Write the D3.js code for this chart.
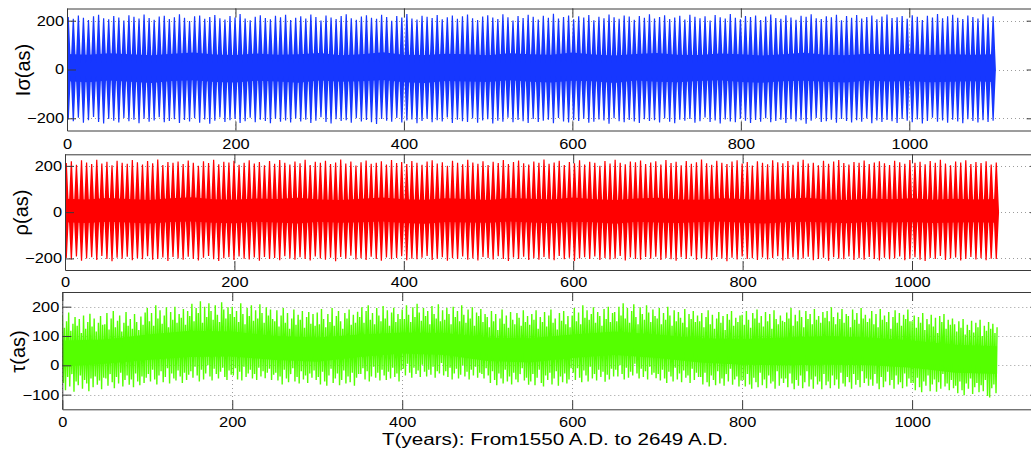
<!DOCTYPE html>
<html><head><meta charset="utf-8">
<script src="https://cdn.jsdelivr.net/npm/d3@7"></script>
<style>body{margin:0;background:#fff;overflow:hidden}</style>
</head><body>
<svg id="c" width="1031" height="458"></svg>
<script>
// ---------------- DATA ----------------
const xTicks = [0, 200, 400, 600, 800, 1000];
const xDomain = [0, 1150];
const yTicksSigma = [-200, 0, 200];
const yTicksRho = [-200, 0, 200];
const yTicksTau = [-100, 0, 100, 200];
const yLabels = ["Iσ(as)", "ρ(as)", "τ(as)"];
const xLabelText = "T(years): From1550 A.D. to 2649 A.D.";

// spikes of the ~6-year beat (years from 1550), read as peak heights
const spikeStart = 1.5, spikeStep = 6;
const sigmaTop = [
215,208,221,212,203,218,224,210,206,219,213,201,222,216,209,225,211,204,217,220,207,214,226,
212,199,218,221,208,215,223,210,205,219,213,227,209,202,216,222,211,206,220,214,224,203,212,
218,209,225,215,201,221,213,207,219,226,210,204,217,222,212,208,224,215,200,219,213,227,209,
205,220,216,211,223,206,214,221,208,218,225,210,203,217,222,213,207,226,214,201,219,211,224,
216,205,220,212,228,209,215,221,206,218,213,223,202,216,210,225,214,208,221,217,204,219,212,
226,209,215,222,207,213,220,205,224,216,210,218,201,223,214,209,227,212,206,219,215,221,203,
217,225,211,208,222,213,204,220,216,226,210,207,218,214,224,202,219,212,223,209,215,221,206,
217,225,211,214,219,208,222,216,203,220,213,227,210,218,224,212,207,221,215,209,226,213,218];
const sigmaBottom = [
-205,-212,-198,-218,-208,-195,-215,-221,-203,-210,-217,-199,-212,-206,-220,-202,-214,-209,-196,-216,-211,-204,-219,
-207,-213,-200,-218,-205,-222,-210,-197,-215,-208,-203,-219,-212,-198,-216,-206,-211,-220,-202,-214,-209,-217,-201,
-213,-206,-219,-210,-196,-215,-221,-204,-211,-208,-218,-200,-213,-207,-216,-223,-203,-210,-214,-199,-217,-209,-205,
-220,-211,-202,-216,-208,-213,-197,-219,-206,-212,-215,-201,-218,-209,-204,-221,-210,-214,-198,-216,-207,-212,-219,
-203,-215,-210,-206,-220,-199,-213,-217,-208,-211,-202,-218,-214,-205,-209,-222,-200,-212,-216,-207,-213,-219,-204,
-211,-208,-217,-201,-214,-220,-206,-210,-203,-218,-212,-197,-215,-209,-221,-205,-213,-216,-202,-210,-219,-207,-214,
-200,-216,-211,-206,-219,-204,-213,-208,-222,-210,-199,-215,-212,-206,-218,-203,-211,-217,-208,-214,-201,-220,-209,
-215,-207,-212,-219,-203,-210,-216,-205,-221,-211,-198,-214,-209,-218,-206,-213,-220,-204,-211,-217,-208,-215,-210];
const rhoTop = [
212,220,205,224,215,208,226,210,218,203,222,214,209,225,216,206,221,211,227,204,217,213,219,
208,223,214,201,220,212,226,207,218,215,222,205,213,224,210,217,203,221,209,225,214,206,219,
211,226,204,218,213,222,208,215,227,210,219,202,216,223,209,214,220,206,225,212,217,208,221,
214,205,219,224,210,216,201,222,213,207,226,215,209,220,204,218,212,225,208,217,223,211,206,
219,213,227,209,215,222,204,217,211,224,206,218,214,201,221,210,226,213,207,219,216,223,208,
215,220,206,225,212,218,203,221,209,216,227,211,205,222,214,208,219,224,210,217,202,220,213,
207,224,216,211,221,205,218,226,210,214,203,222,209,219,225,212,206,217,213,223,208,215,220,
211,204,222,216,209,225,213,218,207,221,214,226,210,203,219,215,224,208,217,212,220,206,215];
const rhoBottom = [
-198,-205,-192,-210,-200,-195,-207,-190,-203,-212,-197,-201,-193,-208,-199,-204,-191,-206,-202,-196,-211,-194,-200,
-206,-193,-202,-209,-197,-190,-204,-211,-199,-195,-207,-192,-201,-205,-196,-210,-194,-203,-198,-208,-191,-200,-206,
-195,-203,-209,-192,-200,-206,-197,-212,-194,-201,-188,-205,-199,-207,-193,-202,-210,-196,-204,-198,-191,-208,-201,
-204,-197,-190,-207,-201,-195,-210,-199,-203,-192,-206,-200,-209,-194,-198,-205,-191,-202,-211,-196,-203,-193,-207,
-199,-206,-194,-201,-208,-190,-204,-197,-211,-200,-195,-203,-192,-207,-198,-205,-201,-189,-209,-196,-202,-206,-194,
-201,-193,-207,-198,-204,-210,-195,-202,-191,-206,-199,-203,-208,-194,-200,-212,-197,-205,-192,-203,-199,-207,-196,
-205,-198,-191,-209,-202,-196,-206,-200,-193,-208,-203,-197,-210,-195,-201,-204,-192,-207,-199,-206,-194,-202,-209,
-197,-204,-200,-192,-208,-201,-195,-206,-211,-198,-203,-190,-207,-200,-196,-209,-202,-194,-205,-199,-208,-201,-203];

// dense core band (every 25 years)
const coreStep = 25;
const sigmaCoreTop = [64,60,67,62,58,65,70,61,59,66,60,63,68,58,62,71,60,59,65,62,58,67,63,60,70,61,57,64,68,60,59,66,62,57,63,69,60,58,65,61,66,59,63,60,62];
const sigmaCoreBottom = [-48,-52,-45,-50,-55,-47,-44,-51,-53,-46,-49,-54,-45,-50,-48,-43,-52,-55,-47,-49,-51,-44,-50,-53,-46,-48,-55,-45,-50,-52,-47,-44,-51,-54,-48,-46,-50,-53,-45,-49,-47,-52,-50,-48,-51];
const rhoCoreTop = [58,55,61,57,53,60,64,56,54,59,57,62,55,52,58,63,56,54,60,57,53,61,58,55,63,56,52,59,62,55,54,60,57,52,58,62,55,53,59,56,60,54,58,55,57];
const rhoCoreBottom = [-44,-47,-41,-45,-49,-43,-40,-46,-48,-42,-45,-49,-41,-46,-44,-40,-47,-50,-43,-45,-46,-40,-45,-48,-42,-44,-50,-41,-45,-47,-43,-40,-46,-49,-44,-42,-45,-48,-41,-45,-43,-47,-45,-44,-46];

// tau: local highs (every 2.5 years) and lows (between them)
const tauStep = 2.5;
const tauHigh = [
172,128,150,180,118,142,165,135,158,110,170,125,148,176,132,160,115,145,168,138,
140,178,122,160,185,130,152,170,115,145,182,135,158,125,175,148,120,166,138,180,
195,150,178,135,205,160,188,142,170,198,130,182,155,200,145,175,162,192,138,185,
168,210,150,195,178,218,145,200,165,212,185,155,205,172,148,215,190,160,198,175,
200,165,185,148,212,175,140,195,168,205,152,188,160,208,178,145,198,170,190,158,
150,188,132,170,195,145,178,125,160,190,138,172,155,185,128,165,182,142,175,135,
180,140,192,158,130,175,148,195,135,168,185,150,125,178,160,190,138,172,145,183,
165,198,145,185,205,155,178,140,195,170,150,202,160,188,135,180,196,148,175,158,
190,158,205,172,148,198,165,210,180,152,195,168,185,140,202,175,160,208,150,188,
155,195,175,140,200,165,185,150,205,172,145,190,160,198,135,180,168,192,148,175,
165,130,185,150,175,120,160,190,142,170,128,182,155,140,178,162,135,188,148,168,
138,175,155,188,125,165,148,182,132,170,190,145,160,122,178,152,185,140,168,130,
170,195,150,180,140,205,162,188,155,175,198,145,182,168,135,192,158,200,148,178,
182,150,200,170,212,160,195,145,185,208,165,140,198,175,155,205,180,148,190,168,
160,195,140,178,155,200,170,135,188,150,182,162,145,192,130,175,158,185,148,170,
150,178,130,165,188,140,172,125,160,182,145,168,120,175,155,185,135,162,148,170,
172,138,185,155,128,178,160,190,145,168,132,182,150,175,125,188,158,140,170,152,
148,180,160,195,135,172,150,188,165,130,185,158,175,140,192,155,168,145,182,162,
185,150,198,165,140,180,158,192,145,175,168,130,190,155,178,142,195,160,172,148,
160,185,140,175,130,192,155,170,148,182,125,165,188,145,178,135,172,158,190,150,
150,170,128,165,145,178,120,158,140,172,132,162,110,168,148,175,125,155,138,160,
140,115,150,128,158,105,138,120,152,112,145,130,155,100,135,118,148,125,142,110,
130];
const tauLow = [
-60,-85,-40,-72,-30,-90,-55,-68,-35,-80,-50,-62,-88,-45,-75,-38,-66,-52,-82,-42,
-45,-70,-30,-58,-78,-40,-62,-25,-72,-50,-35,-66,-48,-75,-28,-55,-68,-38,-60,-42,
-30,-55,-15,-48,-65,-35,-20,-58,-40,-10,-62,-28,-45,-52,-18,-38,-60,-25,-50,-32,
-20,-42,-5,-35,-55,-15,-48,-28,0,-38,-52,-12,-30,-45,-22,-8,-40,-50,-18,-32,
-35,-10,-48,-22,-52,-5,-40,-28,-15,-45,-30,-50,-8,-38,-20,-44,-25,-12,-50,-32,
-25,-52,-38,-65,-15,-45,-58,-30,-10,-55,-40,-62,-20,-48,-35,-60,-28,-42,-18,-50,
-40,-65,-22,-55,-70,-35,-12,-60,-45,-28,-68,-50,-18,-62,-38,-58,-25,-70,-42,-30,
-30,-10,-48,-20,-55,-38,-5,-42,-25,-52,-15,-35,-50,-22,-45,-8,-40,-28,-55,-18,
-12,-35,5,-25,-42,-8,-30,-18,-40,2,-22,-38,-15,-32,-5,-42,-20,-28,8,-35,
-20,-40,-8,-48,-28,-12,-45,-32,0,-38,-22,-48,-15,-35,-5,-42,-25,-30,-45,-10,
-35,-60,-20,-50,-68,-28,-45,-62,-15,-55,-38,-65,-25,-48,-58,-30,-10,-52,-42,-66,
-55,-30,-68,-42,-15,-60,-72,-35,-50,-25,-65,-45,-20,-70,-38,-58,-28,-62,-48,-10,
-25,-50,-10,-42,-58,-18,-35,-55,-5,-45,-30,-52,-15,-40,-22,-56,-32,-48,-12,-38,
-15,-38,0,-30,-48,-8,-42,-22,-35,5,-28,-45,-12,-40,-20,-48,-5,-32,-25,-44,
-30,-52,-15,-45,-60,-22,-38,-55,-8,-48,-28,-58,-18,-42,-35,-60,-12,-50,-25,-40,
-40,-65,-25,-58,-72,-35,-50,-68,-20,-62,-45,-70,-30,-55,-12,-66,-48,-38,-72,-52,
-50,-72,-30,-65,-80,-42,-58,-75,-25,-68,-48,-78,-35,-62,-55,-80,-20,-70,-45,-60,
-45,-75,-28,-62,-82,-50,-70,-35,-78,-58,-20,-72,-48,-80,-38,-65,-55,-82,-30,-68,
-55,-78,-35,-68,-48,-80,-25,-62,-72,-40,-58,-80,-30,-66,-50,-75,-20,-60,-45,-70,
-48,-70,-30,-62,-82,-40,-75,-55,-22,-68,-50,-80,-35,-65,-58,-78,-28,-72,-45,-60,
-60,-85,-42,-75,-92,-55,-70,-35,-88,-65,-48,-90,-58,-80,-30,-72,-62,-85,-50,-78,
-70,-95,-55,-85,-102,-62,-80,-45,-98,-75,-60,-92,-68,-88,-50,-105,-110,-78,-65,-95];
// tau dense core band (every 50 years)
const tauCoreStep = 50;
const tauCoreTop = [85,88,105,118,115,100,95,105,112,110,95,92,105,115,105,92,90,95,100,95,85,70,65];
const tauCoreBottom = [-5,5,18,28,30,18,12,28,40,35,15,10,25,35,25,10,2,0,2,0,-8,-25,-30];

// ---------------- LAYOUT / STYLE ----------------
const FONT = "'Liberation Sans', Arial, Helvetica, sans-serif";
const layout = [
  {left: 67,   ppy: 0.8423, top: 8.5,   bottom: 130.5, xPad: 9,   labelX: 30, labelY: 70},
  {left: 65,   ppy: 0.847,  top: 154.3, bottom: 270,   xPad: 7.5, labelX: 28, labelY: 212.5},
  {left: 62.3, ppy: 0.8498, top: 292,   bottom: 409.3, xPad: 7.5, labelX: 25, labelY: 351.5}
];
const COLORS = ["#1637ff", "#ff0000", "#55ff00"];
const TICK_FONT = 14, TICK_STRETCH = 1.17;
const SPIKE_BASE = 2.8, SPIKE_TIP = 0.6;
const TAU_STROKE = 1.4;

const svg = d3.select("#c");
const defs = svg.append("defs");

function drawBeat(gd, x, y, color, coreTop, coreBottom, tops, bottoms) {
  const area = d3.area()
    .x((d, i) => x(i * coreStep))
    .y0((d, i) => y(coreBottom[i]))
    .y1(d => y(d));
  gd.append("path").datum(coreTop).attr("d", area).attr("fill", color);
  const spikes = vals => vals.map((v, i) => {
    const cx = x(spikeStart + i * spikeStep), b = y(0), t = y(v);
    return `M${cx - SPIKE_BASE},${b}L${cx - SPIKE_TIP},${t}L${cx + SPIKE_TIP},${t}L${cx + SPIKE_BASE},${b}Z`;
  }).join("");
  gd.append("path").attr("d", spikes(tops) + spikes(bottoms)).attr("fill", color);
}

function drawTau(gd, x, y, color) {
  const area = d3.area()
    .x((d, i) => x(i * tauCoreStep))
    .y0((d, i) => y(tauCoreBottom[i]))
    .y1(d => y(d));
  gd.append("path").datum(tauCoreTop).attr("d", area).attr("fill", color);
  const pts = [];
  tauHigh.forEach((h, i) => {
    pts.push([i * tauStep, h]);
    if (i < tauLow.length) pts.push([i * tauStep + tauStep / 2, tauLow[i]]);
  });
  const line = d3.line().x(d => x(d[0])).y(d => y(d[1]));
  gd.append("path").datum(pts).attr("d", line)
    .attr("fill", "none").attr("stroke", color).attr("stroke-width", TAU_STROKE)
    .attr("stroke-linejoin", "miter").attr("stroke-miterlimit", 2);
}

const panels = [
  {yDomain: [-250, 250], yTicks: yTicksSigma,
   draw: (g, x, y) => drawBeat(g, x, y, COLORS[0], sigmaCoreTop, sigmaCoreBottom, sigmaTop, sigmaBottom)},
  {yDomain: [-250, 250], yTicks: yTicksRho,
   draw: (g, x, y) => drawBeat(g, x, y, COLORS[1], rhoCoreTop, rhoCoreBottom, rhoTop, rhoBottom)},
  {yDomain: [-150, 250], yTicks: yTicksTau,
   draw: (g, x, y) => drawTau(g, x, y, COLORS[2])}
];

function stretch(sel, f) {
  sel.each(function () {
    const w = this.getComputedTextLength();
    if (w > 0) d3.select(this).attr("textLength", w * f).attr("lengthAdjust", "spacingAndGlyphs");
  });
}

panels.forEach((cfg, i) => {
  const L = layout[i];
  const x0 = L.left, x1 = L.left + (xDomain[1] - xDomain[0]) * L.ppy;
  const x = d3.scaleLinear().domain(xDomain).range([x0, x1]);
  const y = d3.scaleLinear().domain(cfg.yDomain).range([L.bottom, L.top]);
  const g = svg.append("g");

  defs.append("clipPath").attr("id", "clip" + i).append("rect")
    .attr("x", x0).attr("y", L.top).attr("width", x1 - x0).attr("height", L.bottom - L.top);

  // dotted grid (behind data)
  const grid = g.append("g").attr("stroke", "#9c9c9c").attr("stroke-width", 1)
    .attr("stroke-dasharray", "1,3").attr("fill", "none");
  cfg.yTicks.forEach(v => {
    const yy = Math.round(y(v)) + 0.5;
    grid.append("line").attr("x1", x0).attr("x2", x1).attr("y1", yy).attr("y2", yy);
  });
  xTicks.forEach(v => {
    const xx = Math.round(x(v)) + 0.5;
    grid.append("line").attr("x1", xx).attr("x2", xx).attr("y1", L.top).attr("y2", L.bottom);
  });

  // data
  const gd = g.append("g").attr("clip-path", `url(#clip${i})`);
  cfg.draw(gd, x, y);

  // axes / box
  const ax = g.append("g");
  const fmt = d3.format("d");
  ax.append("g").attr("transform", `translate(0,${L.bottom})`)
    .call(d3.axisBottom(x).tickValues(xTicks).tickSize(-9).tickSizeOuter(0).tickPadding(L.xPad).tickFormat(fmt));
  ax.append("g").attr("transform", `translate(0,${L.top})`)
    .call(d3.axisTop(x).tickValues(xTicks).tickSize(-9).tickSizeOuter(0).tickFormat(""));
  ax.append("g").attr("transform", `translate(${x0},0)`)
    .call(d3.axisLeft(y).tickValues(cfg.yTicks).tickSize(-9).tickSizeOuter(0).tickPadding(3).tickFormat(fmt));
  ax.append("g").attr("transform", `translate(${x1},0)`)
    .call(d3.axisRight(y).tickValues(cfg.yTicks).tickSize(-9).tickSizeOuter(0).tickFormat(""));
  ax.selectAll(".domain").attr("stroke", "#3a3a3a").attr("stroke-width", 1);
  ax.selectAll(".tick line").attr("stroke", "#3a3a3a").attr("stroke-width", 1);
  ax.selectAll("g").attr("font-family", FONT).attr("font-size", TICK_FONT);
  ax.selectAll(".tick text").attr("fill", "#000");
  stretch(ax.selectAll(".tick text"), TICK_STRETCH);

  // y label
  svg.append("text")
    .attr("transform", `translate(${L.labelX},${L.labelY}) rotate(-90)`)
    .attr("text-anchor", "middle")
    .attr("font-family", FONT).attr("font-size", 20).attr("fill", "#000")
    .text(yLabels[i]);
});

// x label
const xl = svg.append("text")
  .attr("x", 555).attr("y", 444.5)
  .attr("text-anchor", "middle")
  .attr("font-family", FONT).attr("font-size", 16).attr("fill", "#000")
  .text(xLabelText);
xl.attr("textLength", 346).attr("lengthAdjust", "spacingAndGlyphs");
</script>
</body></html>
